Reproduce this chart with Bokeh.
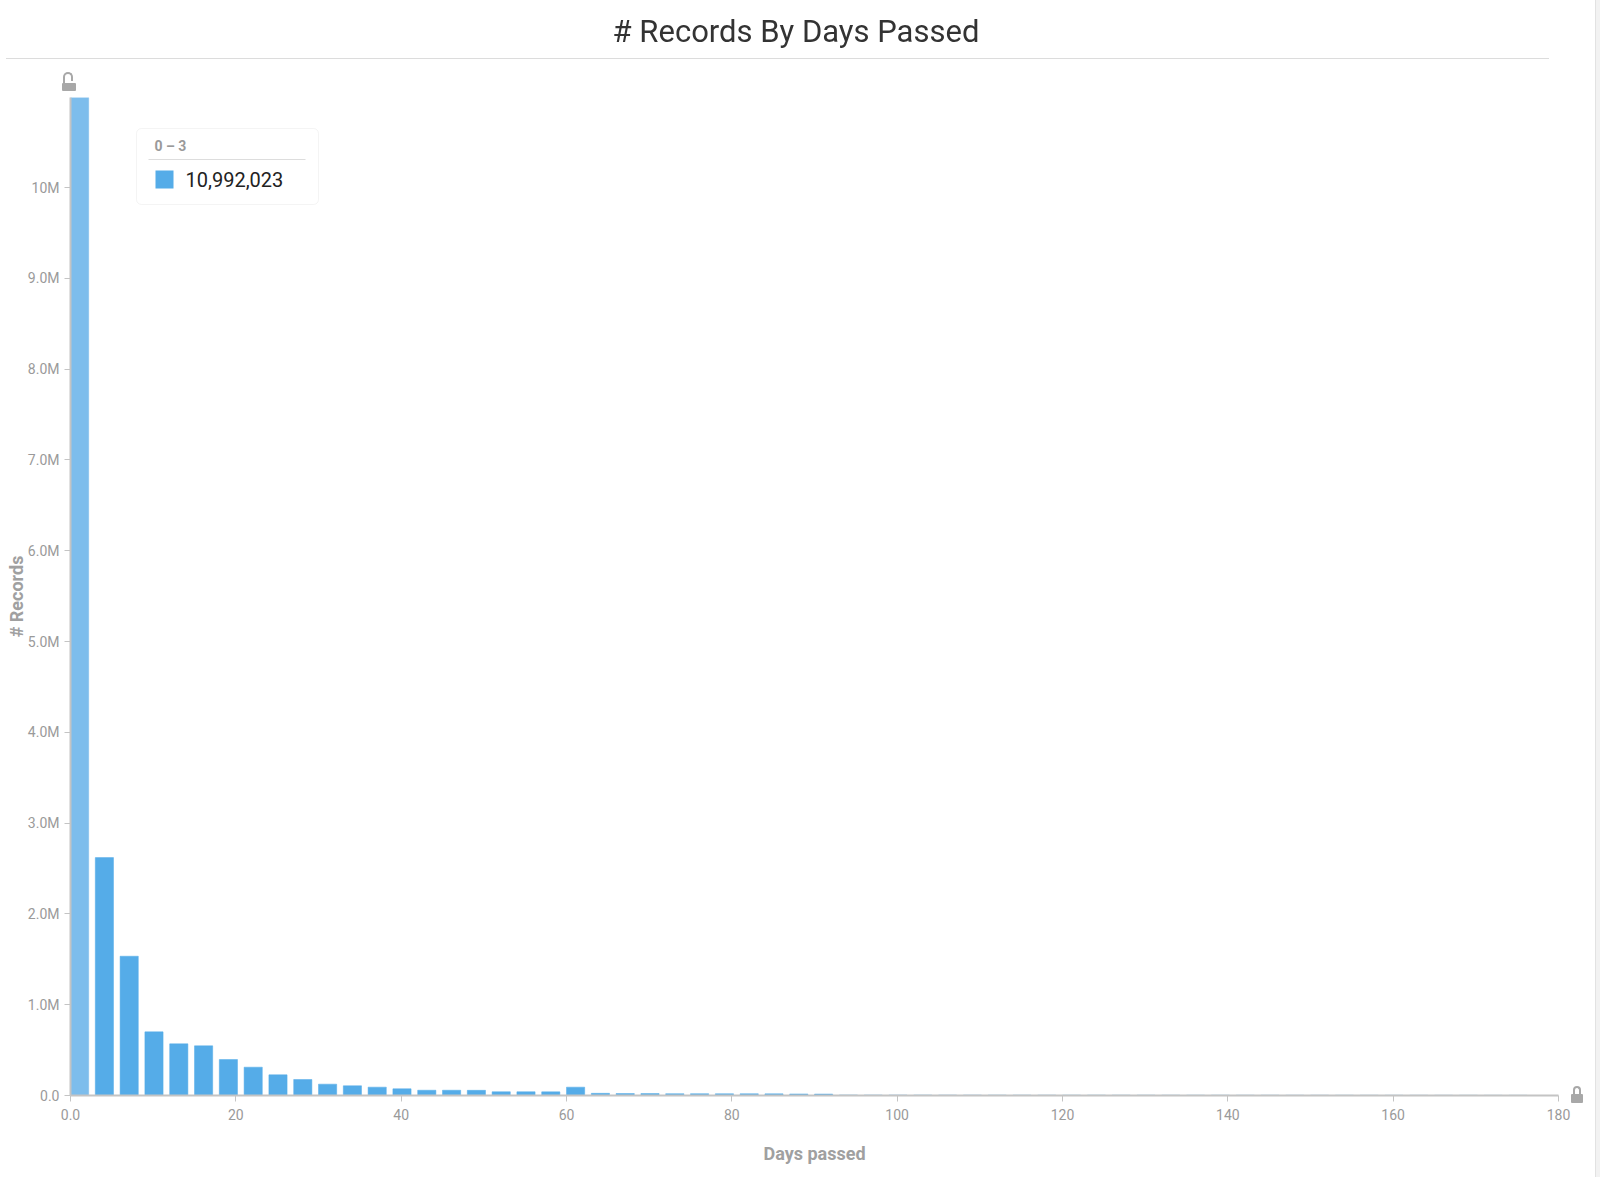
from bokeh.plotting import figure
from bokeh.models import (ColumnDataSource, FixedTicker, Label, BoxAnnotation, Div, Range1d)
from bokeh.layouts import column
from bokeh.embed import file_html
from bokeh.resources import INLINE

TITLE = "# Records By Days Passed"
X_LABEL = "Days passed"
Y_LABEL = "# Records"
BIN_SIZE = 3
bin_start = list(range(0, 180, BIN_SIZE))
records = [
    10992023, 2620000, 1534000, 701000, 569000, 547000, 396000, 312000,
    228000, 176000, 125000, 107000, 92000, 74000, 58000, 58000, 57000,
    41000, 41000, 40000, 92000, 24000, 22000, 21000, 20000, 20000, 19000,
    19000, 18000, 17000, 16000,
    6000, 5500, 5200, 5000, 4800, 4700, 4500, 4400, 4300, 4100, 4000,
    3900, 3800, 3700, 3600, 3500, 3400, 3300, 3200, 3100, 3000, 2900,
    2800, 2700, 2600, 2500, 2400, 2300,
]
x_ticks = [0, 20, 40, 60, 80, 100, 120, 140, 160, 180]
x_tick_labels = ["0.0", "20", "40", "60", "80", "100", "120", "140", "160", "180"]
y_ticks = [0, 1e6, 2e6, 3e6, 4e6, 5e6, 6e6, 7e6, 8e6, 9e6, 10e6]
y_tick_labels = ["0.0", "1.0M", "2.0M", "3.0M", "4.0M", "5.0M", "6.0M", "7.0M", "8.0M", "9.0M", "10M"]
tooltip_header = "0 – 3"
tooltip_value = "10,992,023"

BAR_W = 2.2
BAR_COLOR = "#55ACE8"
HOVER_COLOR = "#7DBDEC"
FONT = "Roboto"
LOCK = "#a8a8a8"

src = ColumnDataSource(dict(
    left=bin_start,
    right=[s + BAR_W for s in bin_start],
    top=records,
    bottom=[0] * len(records),
    color=[HOVER_COLOR] + [BAR_COLOR] * (len(records) - 1),
))

Z = "z-index:50;box-sizing:content-box;"
header_html = (
    '<div style="position:fixed;left:0;top:12px;width:1592px;text-align:center;'
    'font-family:Roboto;font-size:31px;color:#333;line-height:40px;">' + TITLE + '</div>'
    '<div style="position:fixed;left:6px;top:58px;width:1543px;height:0;'
    'border-top:1px solid #dcdcdc;"></div>'
    '<div style="position:fixed;' + Z + 'left:1595px;top:0;width:5px;height:1177px;'
    'background:#f2f2f2;border-left:1px solid #e2e2e2;"></div>'
    # unlocked lock (top-left)
    '<div style="position:fixed;' + Z + 'left:62px;top:83px;width:14px;height:8px;background:' + LOCK + ';border-radius:1px;"></div>'
    '<div style="position:fixed;' + Z + 'left:63px;top:72px;width:6px;height:7px;border:2px solid ' + LOCK + ';'
    'border-bottom:none;border-radius:5px 5px 0 0;"></div>'
    '<div style="position:fixed;' + Z + 'left:63px;top:79px;width:2px;height:4px;background:' + LOCK + ';"></div>'
    # locked lock (bottom-right)
    '<div style="position:fixed;' + Z + 'left:1571px;top:1094px;width:12px;height:9px;background:' + LOCK + ';border-radius:1px;"></div>'
    '<div style="position:fixed;' + Z + 'left:1573px;top:1086px;width:4px;height:8px;border:2px solid ' + LOCK + ';'
    'border-bottom:none;border-radius:4px 4px 0 0;"></div>'
)
title_div = Div(text=header_html, width=1584, height=50, styles={"z-index": "50"})

p = figure(width=1584, height=1108, output_backend="svg", toolbar_location=None,
           x_range=Range1d(0, 180), y_range=Range1d(0, max(records)),
           min_border_left=70, min_border_right=26, min_border_top=37,
           min_border_bottom=73)
p.outline_line_color = None
p.xgrid.visible = False
p.ygrid.visible = False
p.background_fill_color = "white"

p.quad(left="left", right="right", top="top", bottom="bottom", source=src,
       fill_color="color", line_color="color", line_width=0.5)

for ax in (p.xaxis[0], p.yaxis[0]):
    ax.axis_line_color = "#c4c4c4"
    ax.axis_line_width = 2
    ax.major_tick_line_color = "#c4c4c4"
    ax.major_tick_out = 6
    ax.major_tick_in = 0
    ax.minor_tick_line_color = None
    ax.major_label_text_color = "#9a9a9a"
    ax.major_label_text_font = FONT
    ax.major_label_text_font_size = "14px"
    ax.axis_label_text_color = "#a0a0a0"
    ax.axis_label_text_font = FONT
    ax.axis_label_text_font_style = "bold"
    ax.axis_label_text_font_size = "18px"

p.xaxis.ticker = FixedTicker(ticks=x_ticks)
p.xaxis.major_label_overrides = {t: l for t, l in zip(x_ticks, x_tick_labels)}
p.xaxis.axis_label = X_LABEL
p.xaxis.major_label_standoff = 7
p.xaxis.axis_label_standoff = 20

p.yaxis.ticker = FixedTicker(ticks=y_ticks)
p.yaxis.major_label_overrides = {t: l for t, l in zip(y_ticks, y_tick_labels)}
p.yaxis.axis_label = Y_LABEL
p.yaxis.major_label_standoff = 5
p.yaxis.axis_label_standoff = -2

# tooltip
p.add_layout(BoxAnnotation(left=66, right=248, bottom=891, top=967,
                           left_units="screen", right_units="screen",
                           top_units="screen", bottom_units="screen",
                           fill_color="white", fill_alpha=1.0,
                           line_color="#dadada", line_width=1, border_radius=5))
p.add_layout(BoxAnnotation(left=78, right=235, bottom=935.5, top=936.5,
                           left_units="screen", right_units="screen",
                           top_units="screen", bottom_units="screen",
                           fill_color="#dddddd", fill_alpha=1.0, line_color=None))
p.add_layout(BoxAnnotation(left=85, right=103, bottom=907, top=925,
                           left_units="screen", right_units="screen",
                           top_units="screen", bottom_units="screen",
                           fill_color=BAR_COLOR, fill_alpha=1.0, line_color=None))
p.add_layout(Label(x=84, y=950, x_units="screen", y_units="screen", text=tooltip_header,
                   text_font=FONT, text_font_size="14px", text_font_style="bold",
                   text_color="#9a9a9a", text_baseline="middle"))
p.add_layout(Label(x=115, y=916, x_units="screen", y_units="screen", text=tooltip_value,
                   text_font=FONT, text_font_size="20px",
                   text_color="#222222", text_baseline="middle"))

layout = column(title_div, p)
open("out.html", "w").write(file_html(layout, INLINE))
